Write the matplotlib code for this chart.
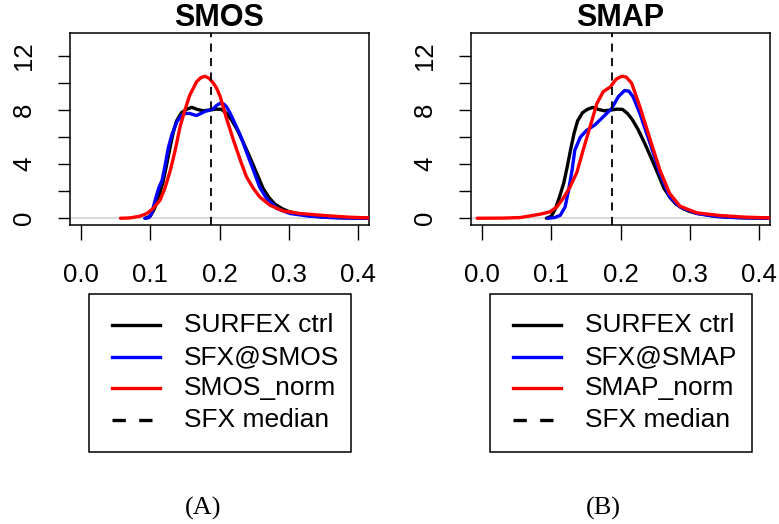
import matplotlib
matplotlib.use("Agg")
import matplotlib.pyplot as plt
from matplotlib.lines import Line2D
from matplotlib.patches import Rectangle

plt.rcParams['font.family'] = ['Liberation Sans', 'DejaVu Sans']

# ---- data ----
ctrl_x = [0.093, 0.100, 0.106, 0.112, 0.118, 0.123, 0.128, 0.133, 0.138, 0.145, 0.152,
          0.160, 0.168, 0.176, 0.186, 0.195, 0.203, 0.210, 0.217, 0.225, 0.234, 0.244,
          0.254, 0.263, 0.272, 0.280, 0.290, 0.300, 0.310, 0.330, 0.350, 0.380, 0.420]
ctrl_y = [0.0, 0.15, 0.7, 1.6, 2.6, 3.8, 5.1, 6.3, 7.2, 7.8, 8.05,
          8.2, 8.05, 7.95, 8.0, 8.07, 8.05, 7.75, 7.3, 6.6, 5.65, 4.5,
          3.3, 2.2, 1.5, 1.05, 0.72, 0.5, 0.37, 0.2, 0.09, 0.03, 0.0]

smos_sfx_x = [0.092, 0.098, 0.102, 0.107, 0.112, 0.117, 0.121, 0.126, 0.131, 0.138, 0.145,
              0.151, 0.157, 0.163, 0.167, 0.173, 0.179, 0.186, 0.191, 0.196, 0.201, 0.206,
              0.210, 0.215, 0.220, 0.230, 0.239, 0.249, 0.258, 0.268, 0.283, 0.302, 0.330,
              0.360, 0.390, 0.420]
smos_sfx_y = [0.0, 0.05, 0.35, 1.33, 2.2, 2.8, 3.8, 5.2, 6.15, 7.1, 7.6,
              7.75, 7.75, 7.65, 7.6, 7.75, 7.9, 8.0, 8.1, 8.35, 8.5, 8.45,
              8.25, 7.8, 7.26, 6.15, 4.9, 3.55, 2.3, 1.46, 0.72, 0.35, 0.15,
              0.05, 0.01, 0.0]

smos_norm_x = [0.057, 0.070, 0.085, 0.095, 0.104, 0.114, 0.121, 0.129, 0.136, 0.143, 0.150,
               0.157, 0.167, 0.173, 0.179, 0.185, 0.191, 0.196, 0.201, 0.210, 0.220, 0.230,
               0.239, 0.249, 0.258, 0.273, 0.292, 0.316, 0.360, 0.390, 0.420]
smos_norm_y = [0.0, 0.02, 0.15, 0.35, 0.72, 1.33, 2.2, 3.55, 5.04, 6.76, 8.0,
               9.1, 10.1, 10.4, 10.5, 10.35, 10.0, 9.6, 9.0, 7.4, 5.8, 4.3,
               3.06, 2.2, 1.58, 0.96, 0.54, 0.35, 0.17, 0.07, 0.02]

smap_sfx_x = [0.095, 0.105, 0.113, 0.120, 0.125, 0.130, 0.134, 0.142, 0.151, 0.163, 0.175,
              0.187, 0.197, 0.206, 0.212, 0.218, 0.228, 0.243, 0.257, 0.271, 0.286, 0.310,
              0.340, 0.370, 0.420]
smap_sfx_y = [0.0, 0.05, 0.22, 0.84, 2.07, 3.55, 5.04, 6.0, 6.5, 6.9, 7.5,
              8.1, 9.0, 9.45, 9.4, 9.0, 7.75, 5.5, 3.3, 1.58, 0.84, 0.35,
              0.12, 0.04, 0.0]

smap_norm_x = [-0.007, 0.030, 0.055, 0.084, 0.098, 0.108, 0.117, 0.127, 0.137, 0.146, 0.156,
               0.166, 0.175, 0.185, 0.194, 0.202, 0.208, 0.216, 0.228, 0.243, 0.257, 0.271,
               0.286, 0.310, 0.344, 0.380, 0.420]
smap_norm_y = [0.0, 0.01, 0.05, 0.3, 0.47, 0.84, 1.46, 2.3, 3.4, 5.04, 6.76,
               8.5, 9.36, 9.7, 10.3, 10.5, 10.45, 10.0, 8.25, 5.8, 3.55, 1.83,
               0.89, 0.4, 0.2, 0.08, 0.02]

sfx_median = 0.188

titles = ['SMOS', 'SMAP']
captions = ['(A)', '(B)']
legend_labels = [['SURFEX ctrl', 'SFX@SMOS', 'SMOS_norm', 'SFX median'],
                 ['SURFEX ctrl', 'SFX@SMAP', 'SMAP_norm', 'SFX median']]
series = [[(ctrl_x, ctrl_y), (smos_sfx_x, smos_sfx_y), (smos_norm_x, smos_norm_y)],
          [(ctrl_x, ctrl_y), (smap_sfx_x, smap_sfx_y), (smap_norm_x, smap_norm_y)]]
colors = ['black', 'blue', 'red']
xticks = [0.0, 0.1, 0.2, 0.3, 0.4]
yticks = [0, 2, 4, 6, 8, 10, 12]
ytick_labels = ['0', '', '4', '', '8', '', '12']

W, H = 779, 524
fig = plt.figure(figsize=(W / 100, H / 100), dpi=100)


def fx(px):
    return px / W


def fy(py):
    return 1 - py / H


panel_left = [70, 471]
for i in range(2):
    left = panel_left[i]
    ax = fig.add_axes([fx(left), fy(225), (369 - 70) / W, (225 - 33) / H])
    ax.axhline(0, color='lightgray', lw=1.2, zorder=1)
    for (x, y), c in zip(series[i], colors):
        ax.plot(x, y, color=c, lw=2.4, solid_joinstyle='round', solid_capstyle='round', zorder=3)
    ax.axvline(sfx_median, color='black', lw=1.3, dashes=(4.5, 3.5), zorder=4)
    ax.set_xlim(-0.016, 0.416)
    ax.set_ylim(-0.5, 13.7)
    ax.set_xticks(xticks)
    ax.set_xticklabels(['%.1f' % v for v in xticks])
    ax.set_yticks(yticks)
    ax.set_yticklabels(ytick_labels)
    ax.tick_params(axis='x', length=11, width=1, pad=16, labelsize=18.5)
    ax.tick_params(axis='y', length=8.5, width=1, pad=16, labelsize=18.5, labelrotation=90)
    for lab in ax.get_yticklabels():
        lab.set_va('center')
    for s in ax.spines.values():
        s.set_linewidth(1.1)
    ax.set_title(titles[i], fontsize=22, fontweight='bold', pad=2)

    # legend box drawn below the panel, R style
    lx0, lx1 = left + 19, left + 281
    fig.add_artist(Rectangle((fx(lx0), fy(452)), (lx1 - lx0) / W, (452 - 294) / H,
                             transform=fig.transFigure, fill=False, lw=1.1, ec='black'))
    styles = [dict(color=c, lw=2.4) for c in colors] + [dict(color='black', lw=2.4, dashes=(4, 4))]
    rows = [325, 357, 388, 420]
    for lab, st, ry in zip(legend_labels[i], styles, rows):
        fig.add_artist(Line2D([fx(lx0 + 23), fx(lx0 + 71)], [fy(ry), fy(ry)],
                              transform=fig.transFigure, **st))
        fig.text(fx(lx0 + 95), fy(ry), lab, fontsize=19, va='center', ha='left')

    fig.text(fx([203, 603][i]), fy(508), captions[i], fontsize=19, ha='center', va='center',
             family=['Liberation Serif', 'DejaVu Serif'])

fig.savefig('out.png', dpi=100)
